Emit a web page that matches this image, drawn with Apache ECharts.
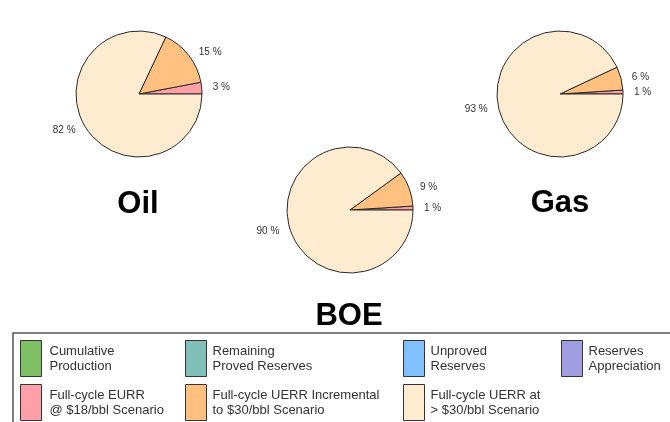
<!DOCTYPE html>
<html>
<head>
<meta charset="utf-8">
<script src="https://cdn.jsdelivr.net/npm/echarts@6/dist/echarts.min.js"></script>
<style>
html,body{margin:0;padding:0;background:#fff;}
#chart{width:670px;height:422px;}
</style>
</head>
<body>
<div id="chart"></div>
<script>
const categories = [
  'Cumulative Production',
  'Remaining Proved Reserves',
  'Unproved Reserves',
  'Reserves Appreciation',
  'Full-cycle EURR @ $18/bbl Scenario',
  'Full-cycle UERR Incremental to $30/bbl Scenario',
  'Full-cycle UERR at > $30/bbl Scenario'
];
const legendLabels = [
  'Cumulative\nProduction',
  'Remaining\nProved Reserves',
  'Unproved\nReserves',
  'Reserves\nAppreciation',
  'Full-cycle EURR\n@ $18/bbl Scenario',
  'Full-cycle UERR Incremental\nto $30/bbl Scenario',
  'Full-cycle UERR at\n> $30/bbl Scenario'
];
const colors = ['#80c064', '#80c0b8', '#80c0ff', '#a09ee0', '#ffa0a8', '#ffc080', '#ffecd0'];
const pieTitles = ['Oil', 'Gas', 'BOE'];
const oilValues = [0, 0, 0, 0, 3, 15, 82];
const gasValues = [0, 0, 0, 0, 1, 6, 93];
const boeValues = [0, 0, 0, 0, 1, 9, 90];

const FONT = 'Arial, "Liberation Sans", sans-serif';
const chart = echarts.init(document.getElementById('chart'), null, {renderer: 'canvas'});

function pieData(values) {
  return categories.map((name, i) => ({
    name: name,
    value: values[i],
    itemStyle: values[i] === 0 ? {borderWidth: 0} : {},
    label: {show: values[i] !== 0}
  }));
}

function pieSeries(values, center) {
  return {
    type: 'pie',
    center: center,
    radius: 63,
    startAngle: 0,
    clockwise: false,
    avoidLabelOverlap: false,
    animation: false,
    silent: true,
    data: pieData(values),
    itemStyle: {borderColor: '#2a2a2a', borderWidth: 1},
    label: {
      position: 'outside',
      formatter: '{c} %',
      fontFamily: FONT,
      fontSize: 10,
      color: '#333'
    },
    labelLine: {show: false, length: 5, length2: 1}
  };
}

// legend slots: [category index, left, top]
const legendSlots = [
  [0, 20, 340], [1, 185, 340], [2, 403, 340], [3, 561, 340],
  [4, 20, 384], [5, 185, 384], [6, 403, 384]
];

const titleStyle = {fontSize: 31, fontWeight: 'bold', color: '#000', fontFamily: FONT};

const option = {
  color: colors,
  backgroundColor: '#ffffff',
  title: [
    {text: pieTitles[0], left: 138, top: 189, textAlign: 'center', padding: 0, textStyle: titleStyle},
    {text: pieTitles[1], left: 560, top: 188, textAlign: 'center', padding: 0, textStyle: titleStyle},
    {text: pieTitles[2], left: 349, top: 301, textAlign: 'center', padding: 0, textStyle: titleStyle}
  ],
  legend: legendSlots.map(([idx, left, top]) => ({
    orient: 'vertical',
    left: left,
    top: top,
    padding: 0,
    itemWidth: 21,
    itemHeight: 36,
    icon: 'rect',
    selectedMode: false,
    data: [categories[idx]],
    formatter: () => legendLabels[idx],
    itemStyle: {borderColor: '#333', borderWidth: 1},
    textStyle: {
      fontFamily: FONT,
      fontSize: 13,
      lineHeight: 15,
      color: '#333',
      padding: [0, 0, 0, left === 20 ? 3 : 1]
    }
  })),
  graphic: [{
    type: 'rect',
    shape: {x: 13, y: 333, width: 680, height: 120},
    style: {fill: 'none', stroke: '#555', lineWidth: 1.5},
    silent: true
  }],
  series: [
    pieSeries(oilValues, [139, 94]),
    pieSeries(gasValues, [560, 94]),
    pieSeries(boeValues, [350, 210])
  ]
};
chart.setOption(option);
</script>
</body>
</html>
